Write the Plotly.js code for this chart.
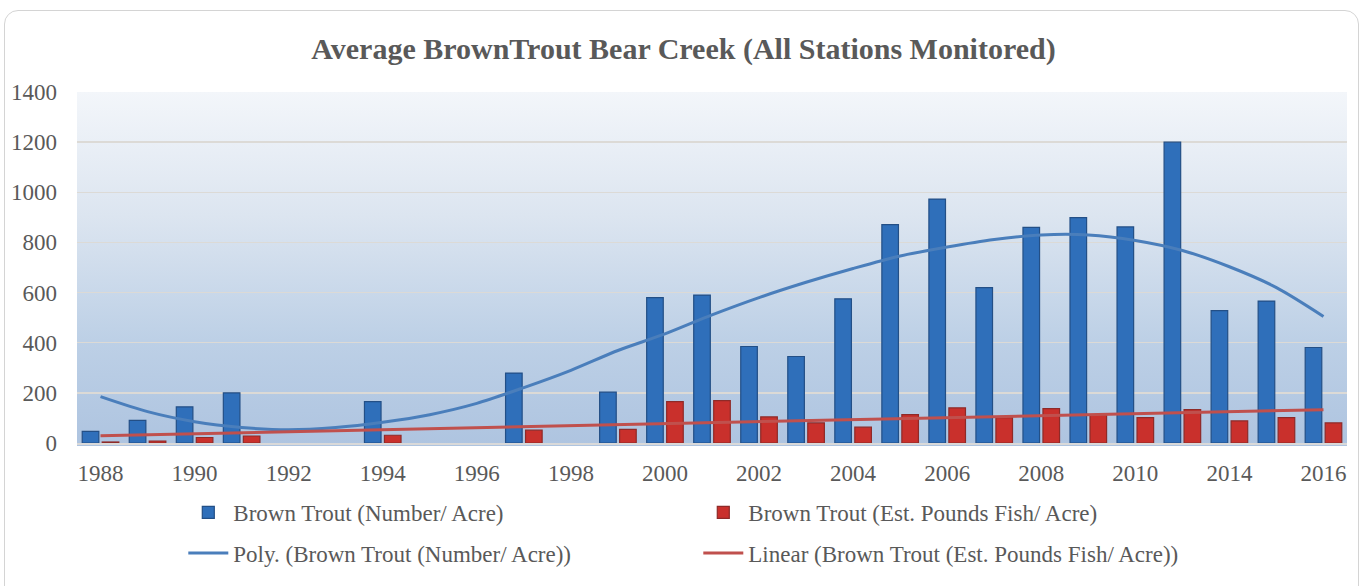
<!DOCTYPE html>
<html>
<head>
<meta charset="utf-8">
<script src="https://cdn.plot.ly/plotly-3.0.1.min.js"></script>
<style>
  html, body { margin: 0; padding: 0; background: #ffffff; }
  #wrap { position: relative; width: 1367px; height: 586px; overflow: hidden; background: #ffffff; }
  #frame { position: absolute; left: 4px; top: 10px; width: 1355px; height: 600px;
           border: 1.5px solid #d4d4d4; border-radius: 14px; box-sizing: border-box; }
  #bg { position: absolute; left: 77px; top: 92px; width: 1270px; height: 354px;
        background: linear-gradient(to bottom, #f3f6fa 0%, #dce5f0 35%, #bdd0e6 70%, #aec4e0 100%); }
  #chart { position: absolute; left: 0; top: 0; width: 1367px; height: 586px; }
</style>
</head>
<body>
<div id="wrap">
  <div id="frame"></div>
  <div id="bg"></div>
  <div id="chart"></div>
</div>
<script>
// ---- data ----
const years = ["1988","1989","1990","1991","1992","1993","1994","1995","1996","1997",
               "1998","1999","2000","2001","2002","2003","2004","2005","2006","2007",
               "2008","2009","2010","2012","2014","2015","2016"];
const numberPerAcre = [46, 90, 144, 200, null, null, 165, null, null, 279,
                       null, 203, 580, 590, 385, 345, 575, 871, 973, 620,
                       860, 899, 862, 1200, 528, 566, 381];
const poundsPerAcre = [4, 8, 22, 28, null, null, 31, null, null, 51,
                       null, 54, 165, 169, 104, 80, 63, 113, 140, 101,
                       137, 111, 101, 133, 88, 101, 80];
// trend lines at each category
const polyTrend = [185, 125, 85, 62, 53, 62, 83, 113, 158, 221,
                   290, 369, 435, 511, 580, 641, 696, 746, 782, 812,
                   830, 830, 808, 768, 703, 620, 505];
const linearTrendYears = ["1988", "2016"];
const linearTrend = [29, 133];
const tickYears = ["1988","1990","1992","1994","1996","1998","2000","2002","2004","2006","2008","2010","2014","2016"];

const serif = "Liberation Serif, Times New Roman, serif";
const txt = "#595959";

const traces = [
  { type: "bar", name: "Brown Trout (Number/ Acre)", x: years, y: numberPerAcre,
    marker: { color: "#2f6fba", line: { color: "#234f86", width: 1.2 } },
    legend: "legend", hoverinfo: "x+y" },
  { type: "bar", name: "Brown Trout (Est. Pounds Fish/ Acre)", x: years, y: poundsPerAcre,
    marker: { color: "#c9302c", line: { color: "#8e2a28", width: 1.2 } },
    legend: "legend", hoverinfo: "x+y" },
  { type: "scatter", mode: "lines", name: "Poly. (Brown Trout (Number/ Acre))", x: years, y: polyTrend,
    line: { color: "#4a7ebb", width: 3, shape: "spline", smoothing: 0.8 }, legend: "legend2" },
  { type: "scatter", mode: "lines", name: "Linear (Brown Trout (Est. Pounds Fish/ Acre))", x: linearTrendYears, y: linearTrend,
    line: { color: "#c0504d", width: 3 }, legend: "legend2" }
];

const legendCommon = {
  orientation: "h", xanchor: "left", yanchor: "middle",
  font: { family: serif, size: 23, color: txt },
  bgcolor: "rgba(0,0,0,0)", entrywidth: 460, entrywidthmode: "pixels",
  itemwidth: 40
};

const layout = {
  width: 1367, height: 586,
  margin: { l: 77, r: 20, t: 92, b: 140 },
  paper_bgcolor: "rgba(0,0,0,0)",
  plot_bgcolor: "rgba(0,0,0,0)",
  title: { text: "<b>Average BrownTrout Bear Creek (All Stations Monitored)</b>",
           font: { family: serif, size: 30, color: txt },
           x: 0.5, xanchor: "center", y: 1 - 48 / 586, yanchor: "middle", yref: "container" },
  barmode: "group", bargap: 0.15, bargroupgap: 0.17,
  xaxis: { type: "category", categoryorder: "array", categoryarray: years,
           tickmode: "array", tickvals: tickYears, ticktext: tickYears,
           tickfont: { family: serif, size: 23, color: txt },
           showgrid: false, showline: true, linecolor: "#d9d9d9", linewidth: 2,
           ticks: "", ticklabelstandoff: 8, fixedrange: true },
  yaxis: { range: [0, 1400], dtick: 200, tick0: 0,
           tickfont: { family: serif, size: 23, color: txt },
           showgrid: true, gridcolor: "#dcdad6", gridwidth: 1.5,
           zeroline: false, showline: false, ticks: "", ticklabelstandoff: 19, fixedrange: true },
  legend: Object.assign({}, legendCommon, { x: 0.0837, y: (446 - 516) / 354 }),
  legend2: Object.assign({}, legendCommon, { x: 0.0837, y: (446 - 557) / 354 }),
  showlegend: true
};

Plotly.newPlot("chart", traces, layout, { displayModeBar: false, staticPlot: true });
</script>
</body>
</html>
